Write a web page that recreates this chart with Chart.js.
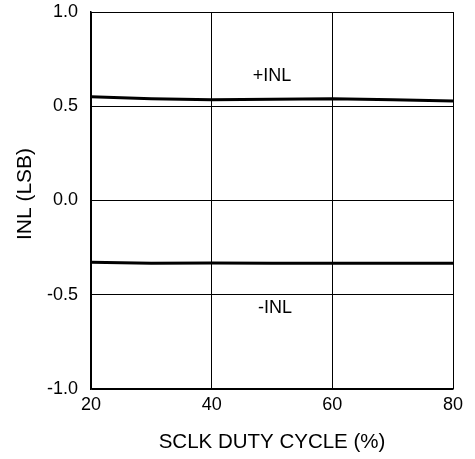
<!DOCTYPE html>
<html>
<head>
<meta charset="utf-8">
<script src="https://cdn.jsdelivr.net/npm/chart.js@4"></script>
<style>
  html, body { margin: 0; padding: 0; background: #fff; }
  #wrap { width: 475px; height: 459px; }
</style>
</head>
<body>
<div id="wrap"><canvas id="inlChart"></canvas></div>
<script>
// datos
const dutyCycle = [20, 30, 40, 50, 60, 70, 80];
const inlPos = [0.55, 0.54, 0.535, 0.537, 0.54, 0.535, 0.528];
const inlNeg = [-0.328, -0.333, -0.332, -0.333, -0.333, -0.333, -0.333];
const yTicks = [-1.0, -0.5, 0.0, 0.5, 1.0];
const xTicks = [20, 40, 60, 80];
const notes = [
    { text: '+INL', x: 50, y: 0.66 },
    { text: '-INL', x: 50.5, y: -0.57 }
];

const FONT = 'Arial, "Liberation Sans", sans-serif';

window.addEventListener('load', function() {
    const ctx = document.getElementById('inlChart').getContext('2d');

    new Chart(ctx, {
        type: 'line',
        data: {
            datasets: [
                {
                    label: '+INL',
                    data: dutyCycle.map((x, i) => ({ x: x, y: inlPos[i] })),
                    borderColor: '#000',
                    borderWidth: 3,
                    pointRadius: 0,
                    tension: 0
                },
                {
                    label: '-INL',
                    data: dutyCycle.map((x, i) => ({ x: x, y: inlNeg[i] })),
                    borderColor: '#000',
                    borderWidth: 3,
                    pointRadius: 0,
                    tension: 0
                }
            ]
        },
        options: {
            responsive: true,
            maintainAspectRatio: false,
            animation: false,
            layout: { padding: { top: 12, right: 22, bottom: 0, left: 0 } },
            plugins: {
                legend: { display: false },
                tooltip: { enabled: false }
            },
            scales: {
                x: {
                    type: 'linear',
                    min: 20,
                    max: 80,
                    afterBuildTicks: function(scale) {
                        scale.ticks = xTicks.map(v => ({ value: v }));
                    },
                    afterFit: function(scale) { scale.height = 70; },
                    ticks: {
                        color: '#000',
                        font: { family: FONT, size: 18 },
                        padding: 5,
                        maxRotation: 0
                    },
                    grid: { color: '#000', lineWidth: 1, drawTicks: false },
                    border: { color: '#000', width: 1.5 },
                    title: {
                        display: true,
                        text: 'SCLK DUTY CYCLE (%)',
                        color: '#000',
                        font: { family: FONT, size: 20.5 },
                        padding: { top: 12 }
                    }
                },
                y: {
                    type: 'linear',
                    min: -1,
                    max: 1,
                    afterBuildTicks: function(scale) {
                        scale.ticks = yTicks.map(v => ({ value: v }));
                    },
                    afterFit: function(scale) {
                        scale.width = 91;
                        scale.paddingTop = 0;
                        scale.paddingBottom = 0;
                    },
                    ticks: {
                        color: '#000',
                        font: { family: FONT, size: 18 },
                        padding: 13,
                        callback: v => v.toFixed(1)
                    },
                    grid: { color: '#000', lineWidth: 1, drawTicks: false },
                    border: { color: '#000', width: 1.5 }
                }
            }
        },
        plugins: [{
            id: 'textos',
            afterDraw: function(chart) {
                const c = chart.ctx;
                const xs = chart.scales.x, ys = chart.scales.y;
                c.save();
                c.fillStyle = '#000';
                c.font = '18px ' + FONT;
                c.textAlign = 'center';
                c.textBaseline = 'middle';
                notes.forEach(n => {
                    c.fillText(n.text, xs.getPixelForValue(n.x), ys.getPixelForValue(n.y));
                });
                // título del eje y
                c.translate(25, 194);
                c.rotate(-Math.PI / 2);
                c.font = '21px ' + FONT;
                c.fillText('INL (LSB)', 0, 0);
                c.restore();
            }
        }]
    });
});
</script>
</body>
</html>
